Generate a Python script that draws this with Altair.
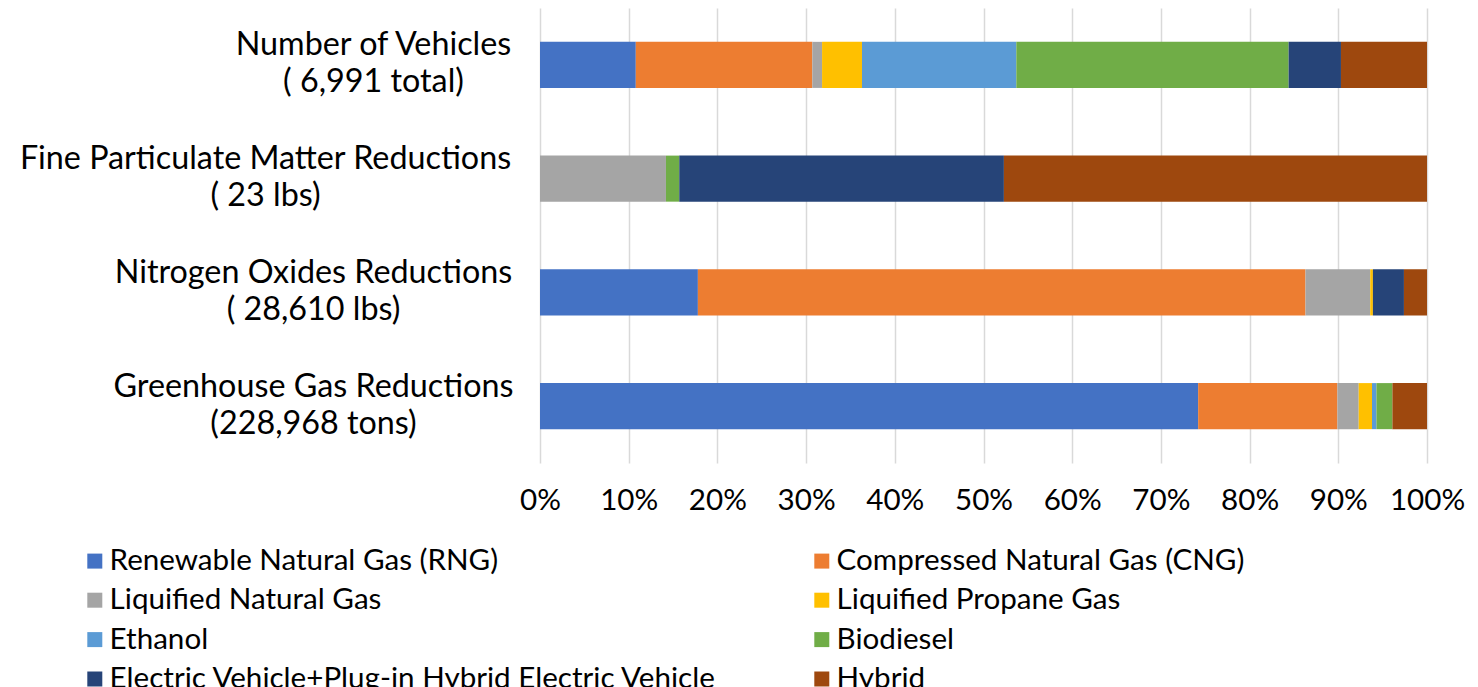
import altair as alt
import pandas as pd

categories = [
    "Number of Vehicles\n( 6,991 total)",
    "Fine Particulate Matter Reductions\n( 23 lbs)",
    "Nitrogen Oxides Reductions\n( 28,610 lbs)",
    "Greenhouse Gas Reductions\n(228,968 tons)",
]
series = [
    "Renewable Natural Gas (RNG)",
    "Compressed Natural Gas (CNG)",
    "Liquified Natural Gas",
    "Liquified Propane Gas",
    "Ethanol",
    "Biodiesel",
    "Electric Vehicle+Plug-in Hybrid Electric Vehicle",
    "Hybrid",
]
colors = ["#4472C4", "#ED7D31", "#A5A5A5", "#FFC000", "#5B9BD5", "#70AD47", "#264478", "#9E480E"]

# percent shares per category (order of series)
vehicles = [10.8, 19.9, 1.1, 4.5, 17.4, 30.7, 5.9, 9.7]
pm = [0.0, 0.0, 14.2, 0.0, 0.0, 1.5, 36.6, 47.7]
nox = [17.8, 68.5, 7.3, 0.3, 0.0, 0.0, 3.5, 2.6]
ghg = [74.2, 15.7, 2.4, 1.5, 0.5, 1.8, 0.0, 3.9]

rows = []
for cat, vals in zip(categories, [vehicles, pm, nox, ghg]):
    for i, (s, v) in enumerate(zip(series, vals)):
        rows.append({"category": cat, "series": s, "idx": i, "value": v / 100.0})
df = pd.DataFrame(rows)

FONT = "Lato"
FS_Y = 32.3
FS = 29.6

chart = alt.Chart(df).mark_bar().encode(
    x=alt.X(
        "value:Q",
        stack="zero",
        scale=alt.Scale(domain=[0, 1], nice=False),
        axis=alt.Axis(
            format=".0%",
            values=[0, 0.1, 0.2, 0.3, 0.4, 0.5, 0.6, 0.7, 0.8, 0.9, 1.0],
            title=None,
            domain=False,
            ticks=False,
            grid=True,
            gridColor="#D9D9D9",
            gridWidth=1.5,
            labelFont=FONT,
            labelFontSize=FS,
            labelColor="#000000",
            labelPadding=23,
            labelOverlap=False,
            labelFlush=False,
        ),
    ),
    y=alt.Y(
        "category:N",
        sort=categories,
        scale=alt.Scale(paddingInner=0.595, paddingOuter=0.2975),
        axis=alt.Axis(
            title=None,
            domain=False,
            ticks=False,
            grid=False,
            labelExpr="split(datum.label, '\\n')",
            labelFont=FONT,
            labelFontSize=FS_Y,
            labelColor="#000000",
            labelAlign="center",
            labelBaseline="middle",
            labelLineHeight=37,
            labelOffset=-19.5,
            labelLimit=1000,
            labelPadding={
                "condition": [
                    {"test": "indexof(datum.value, 'Number') == 0", "value": 167},
                    {"test": "indexof(datum.value, 'Fine') == 0", "value": 275},
                ],
                "value": 227,
            },
        ),
    ),
    color=alt.Color(
        "series:N",
        scale=alt.Scale(domain=series, range=colors),
        legend=alt.Legend(
            title=None,
            orient="none",
            direction="horizontal",
            legendX=-460,
            legendY=538,
            columns=2,
            columnPadding=90,
            rowPadding=8.4,
            padding=0,
            symbolType="square",
            symbolSize=225,
            symbolStrokeWidth=0,
            labelFont=FONT,
            labelFontSize=FS,
            labelColor="#000000",
            labelOffset=0,
            labelLimit=1000,
        ),
    ),
    order=alt.Order("idx:Q", sort="ascending"),
).properties(
    width=887,
    height=455,
    autosize=alt.AutoSizeParams(type="none"),
    padding={"left": 532, "top": 0, "right": 40, "bottom": 224},
).configure_view(stroke=None)

chart.save("out.html", embed_options={"renderer": "svg", "actions": False})
